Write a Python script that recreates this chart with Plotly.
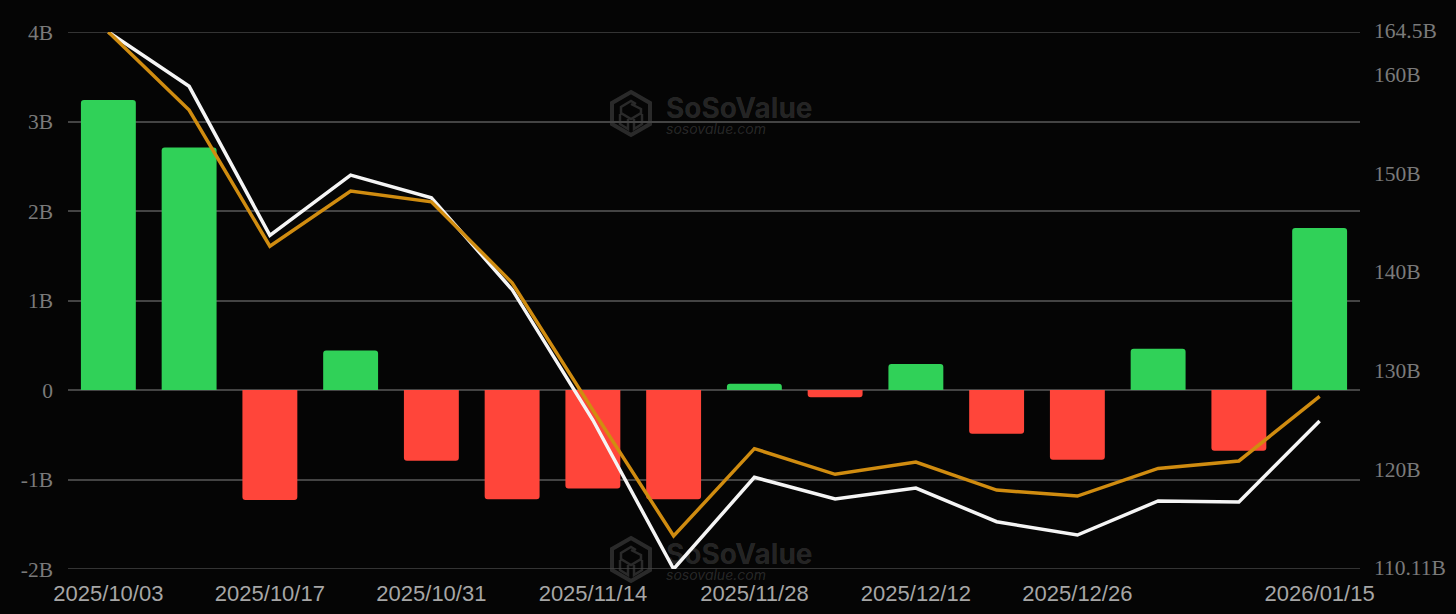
import plotly.graph_objects as go

W, H = 1456, 614
M_L, M_R, M_T, M_B = 68, 96, 32, 45

dates = ['2025/10/03', '2025/10/10', '2025/10/17', '2025/10/24', '2025/10/31', '2025/11/07',
         '2025/11/14', '2025/11/21', '2025/11/28', '2025/12/05', '2025/12/12', '2025/12/19',
         '2025/12/26', '2026/01/02', '2026/01/09', '2026/01/15']
x_ticks = ['2025/10/03', '2025/10/17', '2025/10/31', '2025/11/14', '2025/11/28',
           '2025/12/12', '2025/12/26', '2026/01/15']

# Net flow (bars, left axis), in B
net_flow = [3.24, 2.71, -1.23, 0.44, -0.79, -1.22, -1.10, -1.22,
            0.07, -0.08, 0.29, -0.49, -0.78, 0.46, -0.68, 1.81]
# Right axis lines, in B
white_line = [164.5, 159.0, 143.9, 150.0, 147.7, 138.4, 125.2, 110.11,
              119.4, 117.2, 118.3, 114.9, 113.55, 117.0, 116.9, 125.1]
orange_line = [164.5, 156.6, 142.8, 148.4, 147.3, 139.1, 126.2, 113.45,
               122.3, 119.7, 120.95, 118.1, 117.5, 120.3, 121.05, 127.6]

left_ticks = [-2, -1, 0, 1, 2, 3, 4]
left_labels = ['-2B', '-1B', '0', '1B', '2B', '3B', '4B']
right_ticks = [110.11, 120, 130, 140, 150, 160, 164.5]
right_labels = ['110.11B', '120B', '130B', '140B', '150B', '160B', '164.5B']

GREEN = '#30d158'
RED = '#ff453a'
BG = '#050505'
GRID = '#444444'
MARK = 'rgba(255,255,255,0.15)'


def px(x):
    # picture pixels to paper coords of the plot area
    return (x - M_L) / (W - M_L - M_R)


def py(y):
    return 1 - (y - M_T) / (H - M_T - M_B)


def poly(points, dy, close=False):
    path = 'M' + ' L'.join(f'{px(a)},{py(b + dy)}' for a, b in points)
    return path + ' Z' if close else path


def watermark(dy):
    """Logo and the two text lines, dy is the pixel offset of the copy."""
    hexagon = [(631, 92), (650, 103), (650, 124), (631, 135), (612, 124), (612, 103)]
    top = [(636, 104), (631, 101), (621, 107), (621, 113), (631, 119), (641, 113), (641, 109), (631, 104)]
    left = [(620, 114), (620, 124), (628, 129), (628, 119)]
    right = [(642, 114), (642, 124), (634, 129), (634, 119)]
    paths = [(poly(hexagon, dy, True), 4), (poly(top, dy), 2.5), (poly(left, dy), 2.5), (poly(right, dy), 2.5)]
    shapes = [dict(type='path', path=p, xref='paper', yref='paper', layer='below',
                   line=dict(color=MARK, width=w)) for p, w in paths]
    notes = [
        dict(text='<b>SoSoValue</b>', x=px(664), y=py(108 + dy), xref='paper', yref='paper',
             xanchor='left', yanchor='middle', showarrow=False,
             font=dict(family='Inter', size=28, color=MARK)),
        dict(text='<i>sosovalue.com</i>', x=px(664), y=py(128 + dy), xref='paper', yref='paper',
             xanchor='left', yanchor='middle', showarrow=False,
             font=dict(family='Inter', size=14, color=MARK)),
    ]
    return shapes, notes


fig = go.Figure()

fig.add_trace(go.Bar(
    x=dates,
    y=net_flow,
    marker_color=[GREEN if v >= 0 else RED for v in net_flow],
    marker_line_width=0,
    marker_cornerradius=3,
    width=0.68,
))

fig.add_trace(go.Scatter(
    x=dates,
    y=white_line,
    yaxis='y2',
    mode='lines',
    cliponaxis=False,
    line=dict(color='#f5f5f5', width=3.5),
))

fig.add_trace(go.Scatter(
    x=dates,
    y=orange_line,
    yaxis='y2',
    mode='lines',
    cliponaxis=False,
    line=dict(color='#d08c10', width=3.5),
))

shapes, notes = [], []
for offset in (0, 446):
    s, n = watermark(offset)
    shapes += s
    notes += n

# the axis drops its gridlines at the range ends, so add those two by hand
for v in (left_ticks[0], left_ticks[-1]):
    shapes.append(dict(type='line', xref='paper', yref='y', x0=0, x1=1, y0=v, y1=v,
                       layer='below', line=dict(color=GRID, width=1.5)))

fig.update_layout(
    width=W,
    height=H,
    showlegend=False,
    paper_bgcolor=BG,
    plot_bgcolor=BG,
    margin=dict(l=M_L, r=M_R, t=M_T, b=M_B, autoexpand=False),
    shapes=shapes,
    annotations=notes,
    xaxis=dict(
        type='category',
        categoryorder='array',
        categoryarray=dates,
        range=[-0.5, len(dates) - 0.5],
        tickmode='array',
        tickvals=x_ticks,
        ticktext=x_ticks,
        tickangle=0,
        showgrid=False,
        showline=False,
        zeroline=False,
        ticks='',
        ticklabelstandoff=9,
        tickfont=dict(family='Liberation Sans', size=22, color='#a6a6a6'),
    ),
    yaxis=dict(
        range=[-2, 4],
        tickmode='array',
        tickvals=left_ticks,
        ticktext=left_labels,
        showgrid=True,
        gridcolor=GRID,
        gridwidth=1.5,
        zeroline=True,
        zerolinecolor=GRID,
        zerolinewidth=1.5,
        showline=False,
        ticks='',
        ticklabelstandoff=14,
        tickfont=dict(family='Liberation Serif', size=21.5, color='#7a7a7a'),
    ),
    yaxis2=dict(
        range=[110.11, 164.5],
        overlaying='y',
        side='right',
        tickmode='array',
        tickvals=right_ticks,
        ticktext=right_labels,
        showgrid=False,
        zeroline=False,
        showline=False,
        ticks='',
        ticklabelstandoff=13,
        ticklabelshift=-2,
        tickfont=dict(family='Liberation Serif', size=21.5, color='#7a7a7a'),
    ),
)

fig.write_html(
    "out.html",
    config=dict(displayModeBar=False),
    post_script="document.body.style.margin='0';document.body.style.background='#050505';",
)
